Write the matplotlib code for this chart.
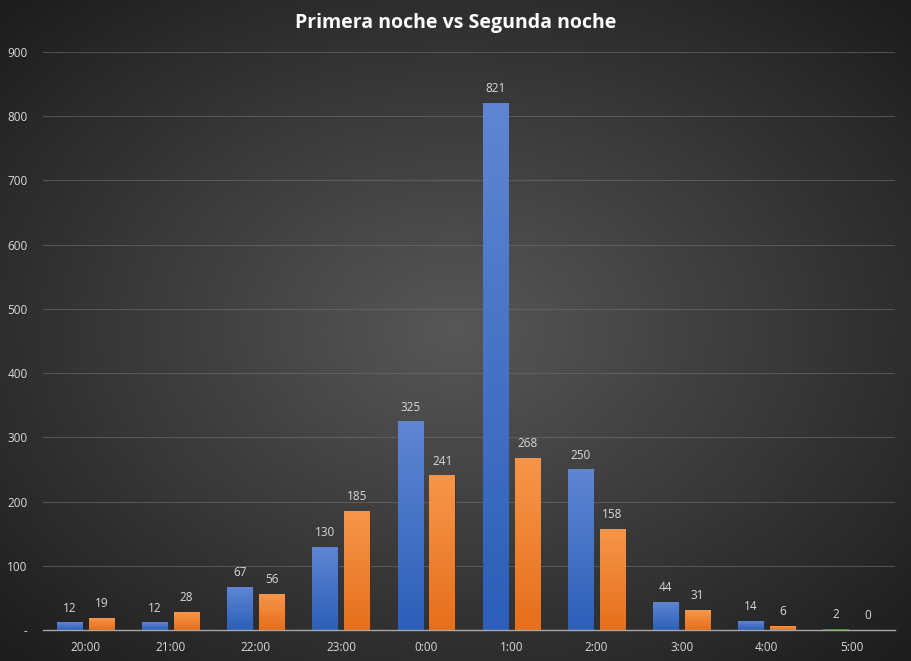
import matplotlib
matplotlib.use("Agg")
import matplotlib.pyplot as plt
import numpy as np
from matplotlib.colors import LinearSegmentedColormap
from matplotlib.ticker import FuncFormatter

horas = ["20:00", "21:00", "22:00", "23:00", "0:00", "1:00", "2:00", "3:00", "4:00", "5:00"]
primera = [12, 12, 67, 130, 325, 821, 250, 44, 14, 2]
segunda = [19, 28, 56, 185, 241, 268, 158, 31, 6, 0]

plt.rcParams["font.family"] = ["Open Sans", "DejaVu Sans"]

fig = plt.figure(figsize=(9.11, 6.61), dpi=100)

# fondo con degradado radial (estilo Excel)
bg = fig.add_axes([0, 0, 1, 1], zorder=-10)
yy, xx = np.mgrid[0:1:400j, 0:1:550j]
r = np.sqrt(((xx - 0.5) / 0.75) ** 2 + ((yy - 0.5) / 0.75) ** 2)
bg_cmap = LinearSegmentedColormap.from_list("bg", ["#575757", "#1c1c1c"])
bg.imshow(np.clip(r, 0, 1), cmap=bg_cmap, aspect="auto", extent=[0, 1, 0, 1])
bg.axis("off")

ax = fig.add_axes([0.0472, 0.0469, 0.9348, 0.8744])
ax.set_facecolor("none")

x = np.arange(len(horas))
w = 0.30
off = 0.187


def gradient_bars(bars, top, bottom):
    cmap = LinearSegmentedColormap.from_list("g", [bottom, top])
    grad = np.linspace(0, 1, 256).reshape(-1, 1)
    for b in bars:
        bx, by = b.get_x(), b.get_y()
        bw, bh = b.get_width(), b.get_height()
        if bh <= 0:
            continue
        im = ax.imshow(grad, cmap=cmap, aspect="auto", origin="lower",
                       extent=[bx, bx + bw, by, by + bh], zorder=3)
        im.set_clip_path(b)
        b.set_facecolor("none")


b1 = ax.bar(x - off, primera, w, color="#4472c4", edgecolor="#2a3550", linewidth=0.6, zorder=3)
b2 = ax.bar(x + off, segunda, w, color="#ed7d31", edgecolor="#4a3020", linewidth=0.6, zorder=3)
gradient_bars(b1, "#5f86d2", "#2c5fb9")
gradient_bars(b2, "#f7964a", "#e66f1c")

for xi, v in zip(x - off, primera):
    ax.text(xi, v + 12, str(v), ha="center", va="bottom", color="#d9d9d9", fontsize=8.5)
for xi, v in zip(x + off, segunda):
    ax.text(xi, v + 12, str(v), ha="center", va="bottom", color="#d9d9d9", fontsize=8.5)

ax.set_xlim(-0.5, len(horas) - 0.5)
ax.set_ylim(0, 900)
ax.set_xticks(x)
ax.set_xticklabels(horas)
ax.set_yticks(range(0, 901, 100))
ax.yaxis.set_major_formatter(FuncFormatter(lambda v, p: "-" if v == 0 else f"{int(v)}"))
ax.tick_params(axis="both", length=0, colors="#d9d9d9", labelsize=8.5)
ax.tick_params(axis="x", pad=8)
ax.tick_params(axis="y", pad=11)

ax.grid(axis="y", color="#6e6e6e", linewidth=0.8, alpha=0.6, zorder=0)
ax.set_axisbelow(True)
for s in ["top", "right", "left"]:
    ax.spines[s].set_visible(False)
ax.spines["bottom"].set_color("#a6a6a6")
ax.spines["bottom"].set_linewidth(1.0)
ax.spines["bottom"].set_zorder(4)

fig.text(0.5, 0.965, "Primera noche vs Segunda noche", ha="center", va="center",
         color="white", fontsize=14, fontweight="bold")

fig.savefig("out.png", dpi=100)
